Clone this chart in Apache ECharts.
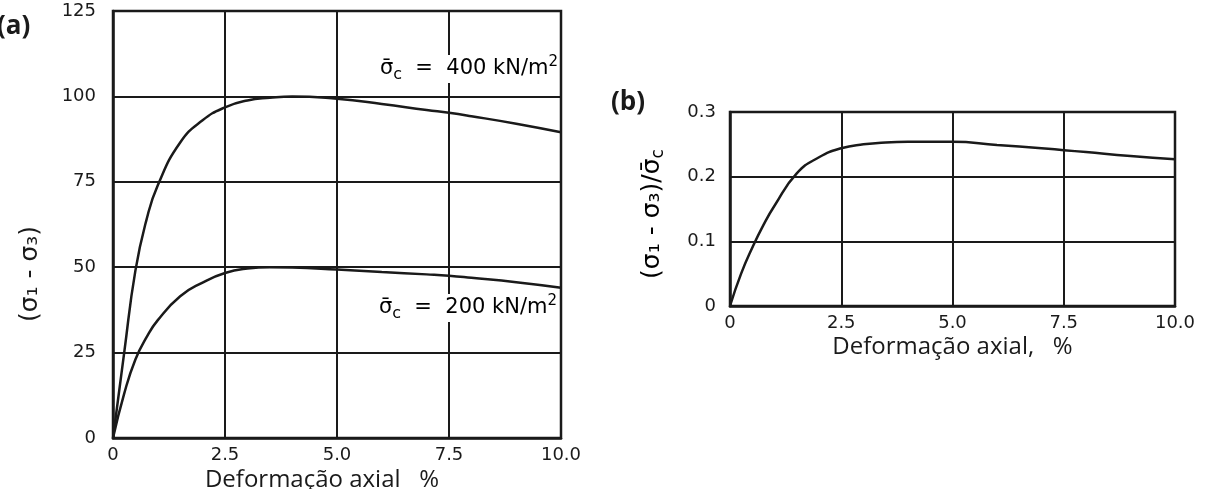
<!DOCTYPE html>
<html>
<head>
<meta charset="utf-8">
<script src="https://cdn.jsdelivr.net/npm/echarts@6/dist/echarts.min.js"></script>
<style>
html,body{margin:0;padding:0;background:#fff;}
#c{width:1209px;height:489px;}
</style>
</head>
<body>
<div id="c"></div>
<script>
// ---- data ----
const strainA = [0, 0.25, 0.5, 0.75, 1, 1.5, 2, 2.5, 3, 3.5, 4, 5, 6, 7, 7.5, 8, 9, 10];
const dev400 = [0, 25, 49, 64, 74, 86.5, 93, 96.8, 98.8, 99.6, 100, 99.3, 97.8, 96, 95.2, 94.2, 92, 89.5];
const dev200 = [0, 13, 23, 29.5, 34.5, 41.5, 45.5, 48.3, 49.6, 50, 49.9, 49.3, 48.6, 47.9, 47.5, 46.9, 45.6, 44];
const strainB = [0, 0.25, 0.5, 0.75, 1, 1.5, 2, 2.5, 3, 3.5, 4, 5, 6, 7, 7.5, 8, 9, 10];
const ratio = [0, 0.05, 0.09, 0.125, 0.155, 0.205, 0.23, 0.244, 0.25, 0.253, 0.254, 0.254, 0.249, 0.244, 0.241, 0.238, 0.232, 0.227];
const xTicks = [0, 2.5, 5, 7.5, 10];
const yTicksA = [0, 25, 50, 75, 100, 125];
const yTicksB = [0, 0.1, 0.2, 0.3];
const xName = 'Deformação axial   %';
const xNameB = 'Deformação axial,   %';
const label400 = '400 kN/m';
const label200 = '200 kN/m';

const pair = (xs, ys) => xs.map((x, i) => [x, ys[i]]);
const tickFont = 'DejaVu Sans';
const ink = '#1a1a1a';

function xAxis(gi) {
  return {
    type: 'value', gridIndex: gi, min: xTicks[0], max: xTicks[xTicks.length - 1], interval: 2.5,
    axisLine: {show: true, lineStyle: {color: ink, width: 2.5}},
    axisTick: {show: false},
    splitLine: {show: true, lineStyle: {color: ink, width: 2}},
    axisLabel: {fontFamily: tickFont, fontSize: 18, color: ink, margin: 8,
      formatter: v => v === 0 ? '0' : v.toFixed(1)},
    name: gi === 0 ? xName : xNameB, nameLocation: 'middle', nameGap: gi === 0 ? 30 : 29,
    nameMoveOverlap: false,
    nameTextStyle: {fontFamily: 'Open Sans', fontSize: 24, color: ink,
      padding: gi === 0 ? [0, 30, 0, 0] : [0, 0, 0, 0]}
  };
}
function yAxis(gi) {
  const t = gi === 0 ? yTicksA : yTicksB;
  return {
    type: 'value', gridIndex: gi, min: t[0], max: t[t.length - 1], interval: t[1] - t[0],
    axisLine: {show: true, lineStyle: {color: ink, width: 2.5}},
    axisTick: {show: false},
    splitLine: {show: true, lineStyle: {color: ink, width: 2}},
    axisLabel: {fontFamily: tickFont, fontSize: 18, color: ink, margin: gi === 0 ? 17 : 14,
      formatter: v => v === 0 ? '0' : (gi === 0 ? String(v) : v.toFixed(1))}
  };
}
const lineStyle = {color: ink, width: 2.5};
function line(xi, data) {
  return {type: 'line', xAxisIndex: xi, yAxisIndex: xi, data, showSymbol: false,
    smooth: true, lineStyle, silent: true, z: 5};
}
const richAnn = {
  s: {fontFamily: tickFont, fontSize: 21, color: ink, lineHeight: 28},
  sub: {fontFamily: tickFont, fontSize: 16, color: ink, lineHeight: 15, verticalAlign: 'bottom'},
  sup: {fontFamily: tickFont, fontSize: 15, color: ink, lineHeight: 14, verticalAlign: 'top'}
};
function ann(text, x, y) {
  return {type: 'text', right: 1209 - x, top: y, z: 10,
    style: {text: '{s|σ\u0304}{sub|c}{s|  =  ' + text + '}{sup|2}', rich: richAnn,
      backgroundColor: '#fff', padding: [0, 1, 0, 3]}};
}
const chart = echarts.init(document.getElementById('c'));
chart.setOption({
  backgroundColor: '#fff',
  animation: false,
  grid: [
    {left: 113, right: 648, top: 11, bottom: 51, show: true, borderColor: ink, borderWidth: 2.5,
      containLabel: false, outerBoundsMode: 'none'},
    {left: 730, right: 34, top: 112, bottom: 183, show: true, borderColor: ink, borderWidth: 2.5,
      containLabel: false, outerBoundsMode: 'none'}
  ],
  xAxis: [xAxis(0), xAxis(1)],
  yAxis: [yAxis(0), yAxis(1)],
  series: [line(0, pair(strainA, dev400)), line(0, pair(strainA, dev200)), line(1, pair(strainB, ratio))],
  graphic: [
    {type: 'text', left: -3, top: 14, style: {text: '(a)', font: 'bold 26px "Open Sans"', fill: ink}},
    {type: 'text', left: 611, top: 90, style: {text: '(b)', font: 'bold 26px "Open Sans"', fill: ink}},
    ann(label400, 559, 55),
    ann(label200, 558, 294),
    {type: 'text', x: 30, y: 274, rotation: Math.PI / 2,
      style: {text: '(σ₁ - σ₃)', font: '25px "DejaVu Sans"', fill: ink, textAlign: 'center', textVerticalAlign: 'middle'}},
    {type: 'text', x: 652, y: 214, rotation: Math.PI / 2,
      style: {text: '{s|(σ₁ - σ₃)/σ\u0304}{sub|c}', textAlign: 'center', textVerticalAlign: 'middle',
        rich: {s: {fontFamily: tickFont, fontSize: 25, color: ink, lineHeight: 30},
               sub: {fontFamily: tickFont, fontSize: 17, color: ink, lineHeight: 16, verticalAlign: 'bottom'}}}}
  ]
});
</script>
</body>
</html>
